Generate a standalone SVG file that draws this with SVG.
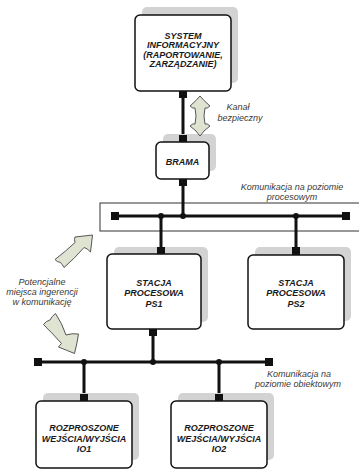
<svg xmlns="http://www.w3.org/2000/svg" width="359" height="474" viewBox="0 0 359 474">
<style>
.shadow{fill:#d3d3d3;stroke:none}
.box{fill:#fff;stroke:#111;stroke-width:1.5}
.lbl{font-family:"Liberation Sans",Arial,sans-serif;font-size:9px;font-weight:bold;font-style:italic;fill:#1a1a1a;text-anchor:middle}
.ann{font-family:"Liberation Sans",Arial,sans-serif;font-size:9px;font-style:italic;fill:#3a3a3a;text-anchor:middle}
.bus{stroke:#111;stroke-width:3;fill:none}
.term{fill:#111}
.dot{fill:#111}
.blk{fill:#dfe4d2;stroke:#555;stroke-width:1}
</style>
<rect x="100" y="203" width="262" height="28" fill="#fff" stroke="#333" stroke-width="1"/>
<g id="connectors">
<line class="bus" x1="183" y1="91" x2="183" y2="142"/>
<line class="bus" x1="183" y1="179" x2="183" y2="216"/>
<line class="bus" x1="115" y1="216" x2="346" y2="216"/>
<line class="bus" x1="161" y1="216" x2="161" y2="254"/>
<line class="bus" x1="296" y1="216" x2="296" y2="254"/>
<line class="bus" x1="153" y1="329" x2="153" y2="362"/>
<line class="bus" x1="38" y1="362" x2="269" y2="362"/>
<line class="bus" x1="84" y1="362" x2="84" y2="401"/>
<line class="bus" x1="219" y1="362" x2="219" y2="401"/>
<rect class="term" x="111" y="212" width="8" height="8"/>
<rect class="term" x="342" y="212" width="8" height="8"/>
<circle class="dot" cx="161" cy="216" r="3"/>
<circle class="dot" cx="183" cy="216" r="3"/>
<circle class="dot" cx="296" cy="216" r="3"/>
<rect class="term" x="34" y="358" width="8" height="8"/>
<rect class="term" x="265" y="358" width="8" height="8"/>
<circle class="dot" cx="84" cy="362" r="3"/>
<circle class="dot" cx="153" cy="362" r="3"/>
<circle class="dot" cx="219" cy="362" r="3"/>
</g>
<g id="system">
<rect class="shadow" x="142" y="7" width="96" height="76" rx="5"/>
<rect class="box" x="135" y="15" width="96" height="76" rx="5"/>
<text class="lbl" x="183" y="38.5">SYSTEM</text>
<text class="lbl" x="183" y="48">INFORMACYJNY</text>
<text class="lbl" x="183" y="57.5">(RAPORTOWANIE,</text>
<text class="lbl" x="183" y="67">ZARZĄDZANIE)</text>
<rect class="term" x="179" y="91" width="8" height="7"/>
</g>
<g id="brama">
<rect class="shadow" x="163" y="134" width="53" height="37" rx="5"/>
<rect class="box" x="156" y="142" width="53" height="37" rx="5"/>
<text class="lbl" x="182.5" y="165">BRAMA</text>
<rect class="term" x="179" y="135" width="8" height="7"/>
<rect class="term" x="179" y="179" width="8" height="7"/>
</g>
<g id="ps1">
<rect class="shadow" x="114" y="247" width="94" height="75" rx="5"/>
<rect class="box" x="107" y="254" width="94" height="75" rx="5"/>
<text class="lbl" x="154" y="285.5">STACJA</text>
<text class="lbl" x="154" y="296">PROCESOWA</text>
<text class="lbl" x="154" y="306.5">PS1</text>
<rect class="term" x="157" y="247" width="8" height="7"/>
<rect class="term" x="149" y="329" width="8" height="7"/>
</g>
<g id="ps2">
<rect class="shadow" x="255" y="247" width="96" height="74" rx="5"/>
<rect class="box" x="248" y="255" width="96" height="74" rx="5"/>
<text class="lbl" x="296" y="285.5">STACJA</text>
<text class="lbl" x="296" y="296">PROCESOWA</text>
<text class="lbl" x="296" y="306.5">PS2</text>
<rect class="term" x="292" y="247" width="8" height="8"/>
</g>
<g id="io1">
<rect class="shadow" x="43" y="393" width="96" height="67" rx="5"/>
<rect class="box" x="36" y="401" width="96" height="67" rx="5"/>
<text class="lbl" x="84" y="431">ROZPROSZONE</text>
<text class="lbl" x="84" y="441.5">WEJŚCIA/WYJŚCIA</text>
<text class="lbl" x="84" y="452">IO1</text>
<rect class="term" x="80" y="394" width="8" height="7"/>
</g>
<g id="io2">
<rect class="shadow" x="178" y="393" width="96" height="67" rx="5"/>
<rect class="box" x="171" y="401" width="96" height="67" rx="5"/>
<text class="lbl" x="219" y="431">ROZPROSZONE</text>
<text class="lbl" x="219" y="441.5">WEJŚCIA/WYJŚCIA</text>
<text class="lbl" x="219" y="452">IO2</text>
<rect class="term" x="215" y="394" width="8" height="7"/>
</g>
<g id="arrows">
<path class="blk" d="M200,96 Q203,100 210,106 Q207,109 205,108 Q203,116 205,124 Q207,123 210,126 Q203,131 200,136 Q197,131 190,126 Q193,123 195,124 Q197,116 195,108 Q193,109 190,106 Q197,100 200,96 Z"/>
<path class="blk" d="M92.5,235 L90.5,252 Q87,248 84,247.5 Q75,258 64,267.5 Q62,264 60.5,262.5 Q57,262 55,259.5 Q66,251 75,242.5 Q74,239 75,237 Q84,236 92.5,235 Z"/>
<path class="blk" d="M55.5,313.5 Q62,323 66,335 Q72,333 78.5,334 Q77,344 74.5,353.5 Q66,350 58.5,347 Q60,345 61.5,343.5 Q53,334 43.5,324.5 Q46,321 50,320 Q52,316 55.5,313.5 Z"/>
</g>
<g id="annotations">
<text class="ann" x="238" y="110">Kanał</text>
<text class="ann" x="240" y="121">bezpieczny</text>
<text class="ann" x="292" y="190">Komunikacja na poziomie</text>
<text class="ann" x="292" y="200">procesowym</text>
<text class="ann" x="42" y="285">Potencjalne</text>
<text class="ann" x="42" y="295">miejsca ingerencji</text>
<text class="ann" x="42" y="305">w komunikację</text>
<text class="ann" x="299" y="377">Komunikacja na</text>
<text class="ann" x="298" y="387">poziomie obiektowym</text>
</g>
</svg>
